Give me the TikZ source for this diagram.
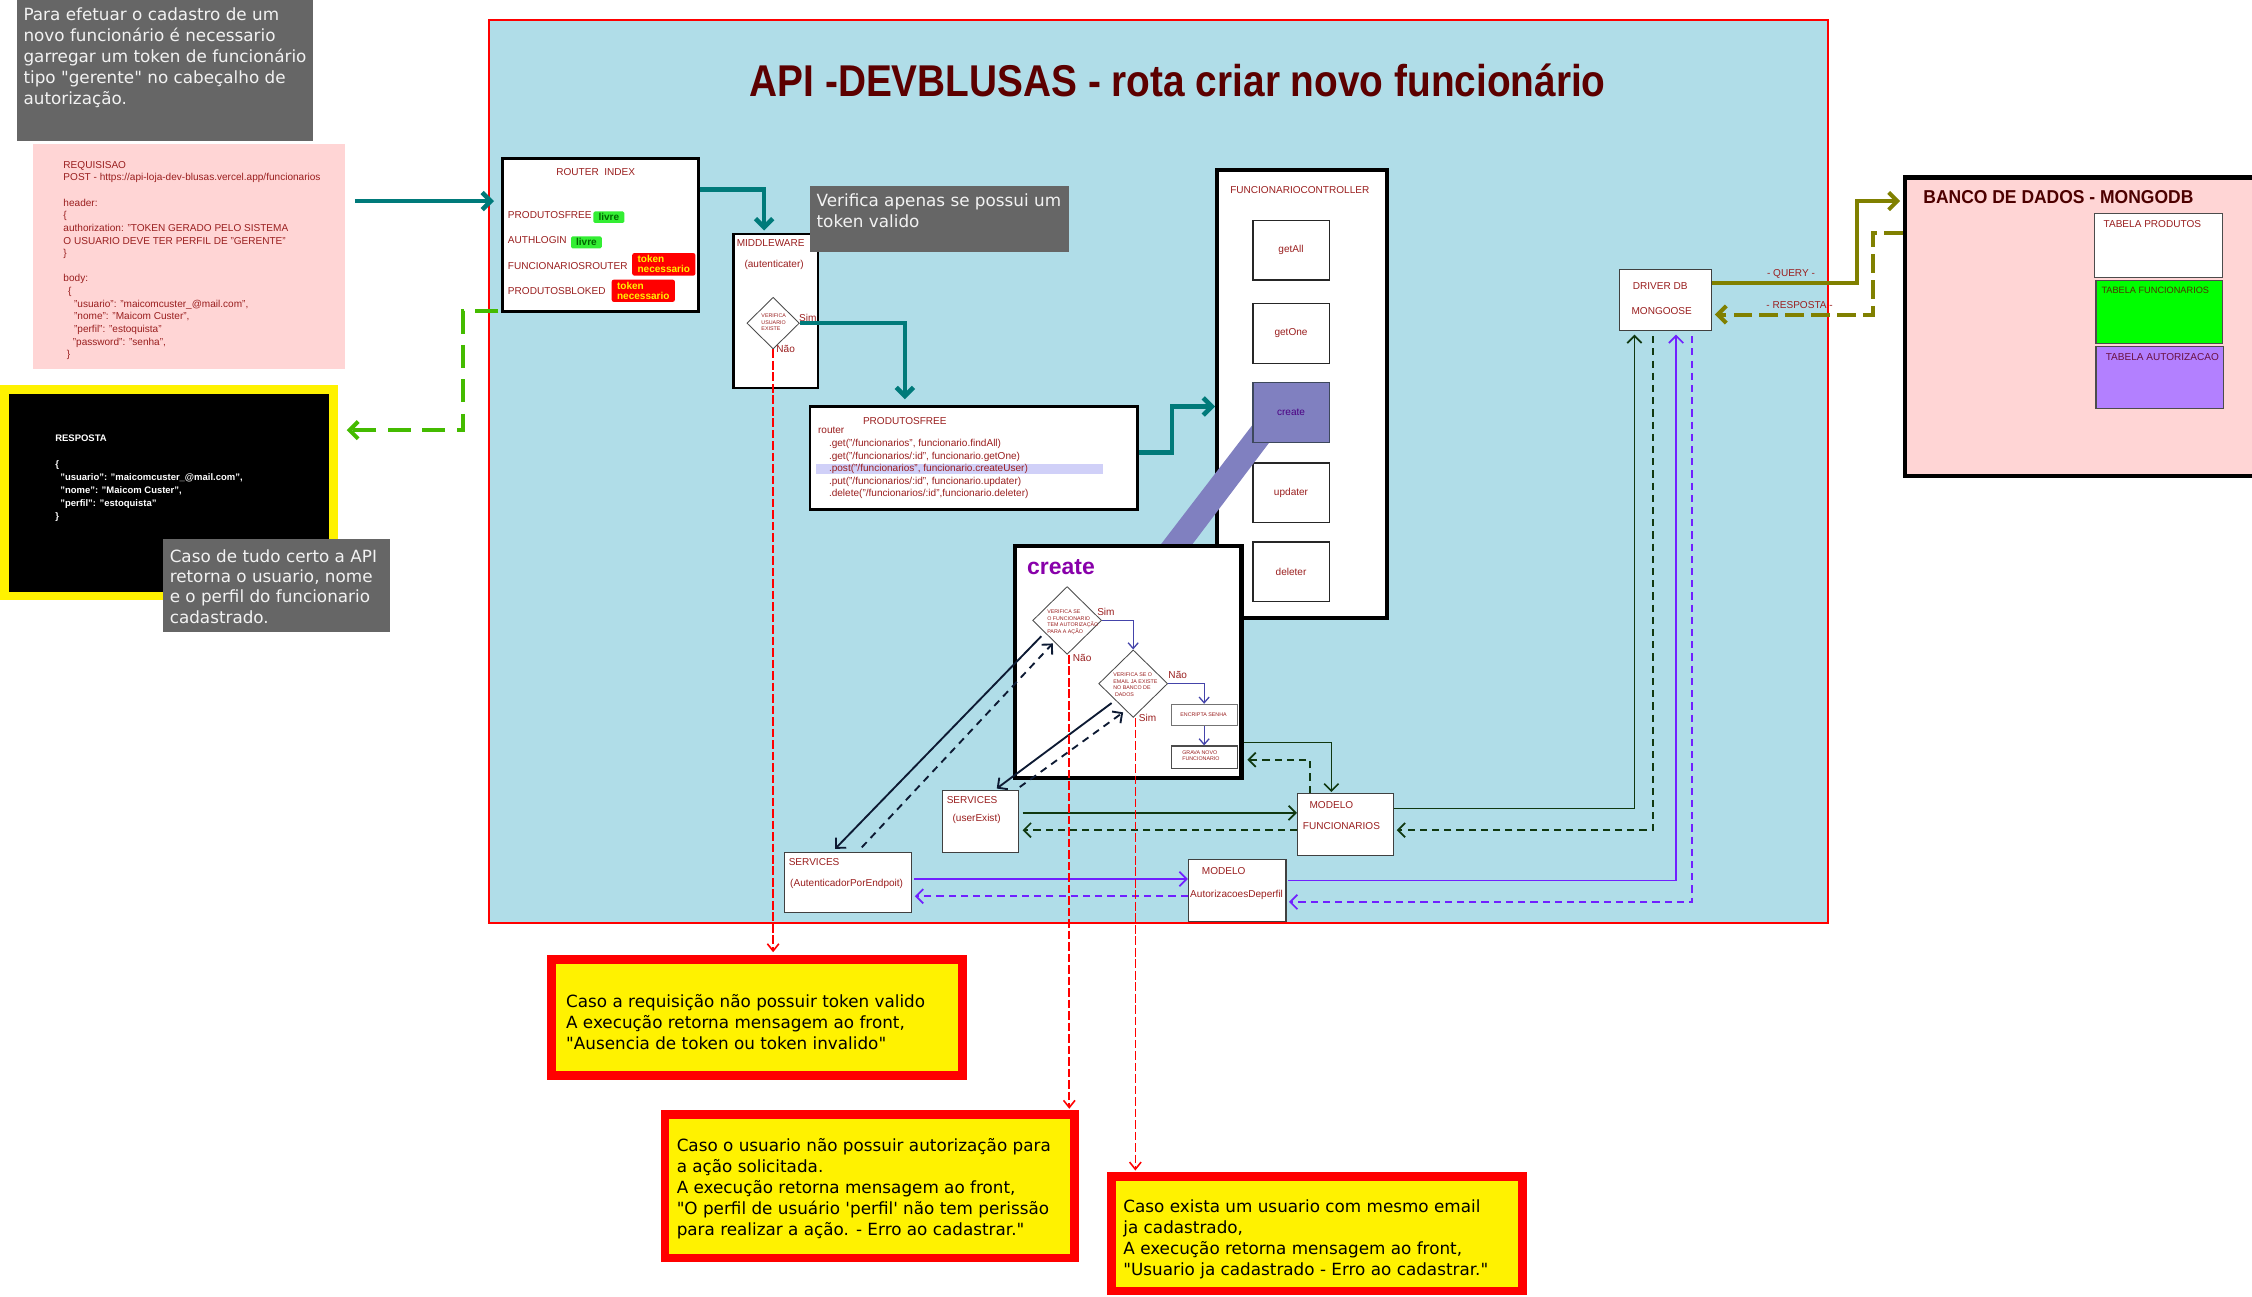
\documentclass[tikz,border=0pt]{standalone}
\usepackage{fontspec}
\usepackage{graphicx}
\setmainfont{Liberation Sans}
\newfontfamily\verd{DejaVu Sans}
\usetikzlibrary{arrows.meta,shapes.geometric}
\definecolor{bgblue}{HTML}{B0DDE8}
\definecolor{dr}{HTML}{9A1F1F}
\definecolor{titlered}{HTML}{5C0000}
\definecolor{gnote}{HTML}{666666}
\definecolor{notewhite}{HTML}{F2F2F2}
\definecolor{reqpink}{HTML}{FFD5D5}
\definecolor{tealc}{HTML}{007A7A}
\definecolor{limec}{HTML}{44BB00}
\definecolor{olivec}{HTML}{808000}
\definecolor{dgreen}{HTML}{103810}
\definecolor{violetc}{HTML}{7020FF}
\definecolor{navyc}{HTML}{0D1A33}
\definecolor{bluec}{HTML}{4444AA}
\definecolor{bandc}{HTML}{8080C0}
\definecolor{createc}{HTML}{8800AA}
\definecolor{ctxt}{HTML}{4B0082}
\definecolor{tgreen}{HTML}{00FF00}
\definecolor{tpurple}{HTML}{B380FF}
\definecolor{hlc}{HTML}{D0D0F8}
\definecolor{livref}{HTML}{33EE33}
\definecolor{livret}{HTML}{006600}
\definecolor{dbtitle}{HTML}{4D0000}
\definecolor{tfunc}{HTML}{4D3300}
\definecolor{taut}{HTML}{6A1040}
\tikzset{
 lab/.style={text=dr, font=\fontsize{7}{8.4}\selectfont, inner sep=0pt, text height=5pt, text depth=0pt},
 mlab/.style={text=dr, font=\fontsize{7}{8.8}\selectfont, inner sep=0pt, align=left, anchor=north west},
 tinylab/.style={text=dr, font=\fontsize{3.7}{4.45}\selectfont, inner sep=0pt, align=left, anchor=north west},
 wbox/.style={draw=black!75, fill=white, line width=0.8pt, anchor=north west, inner sep=0pt},
 kbox/.style={draw=black, fill=white, anchor=north west, inner sep=0pt},
 notebox/.style={fill=gnote, anchor=north west, inner sep=0pt},
 notetxt/.style={text=notewhite, font=\verd\fontsize{11.7}{14.5}\selectfont, align=left, anchor=north west, inner sep=0pt},
 ybox/.style={draw=red, fill=yellow, line width=6pt, anchor=north west, inner sep=0pt},
 ytxt/.style={text=black, font=\verd\fontsize{11.7}{14.6}\selectfont, align=left, anchor=north west, inner sep=0pt},
 dmd/.style={diamond, draw=black!70, fill=white, inner sep=0pt, line width=0.6pt},
 livretag/.style={fill=livref, text=livret, font=\bfseries\fontsize{7}{7}\selectfont, rounded corners=1pt, inner sep=0pt, anchor=north west, text height=5pt, text depth=0pt},
 tokentag/.style={fill=red, text=yellow, font=\bfseries\fontsize{7}{7}\selectfont, rounded corners=1.5pt, inner sep=1.5pt, anchor=north west, align=left},
 tealarrow/.style={draw=tealc, line width=3.2pt, -{Straight Barb[length=6pt,width=12pt]}},
 limedash/.style={draw=limec, line width=2.8pt, dash pattern=on 16pt off 8pt, -{Straight Barb[length=6pt,width=12pt]}},
 olivearrow/.style={draw=olivec, line width=2.8pt, -{Straight Barb[length=6pt,width=12pt]}},
 olivedash/.style={olivearrow, dash pattern=on 13pt off 5pt},
 gline/.style={draw=dgreen, line width=1.2pt, -{Straight Barb[length=5pt,width=10pt]}},
 gdash/.style={gline, dash pattern=on 5pt off 3.5pt},
 pline/.style={draw=violetc, line width=1.2pt, -{Straight Barb[length=5pt,width=10pt]}},
 pdash/.style={pline, dash pattern=on 5pt off 3.5pt},
 nline/.style={draw=navyc, line width=1.3pt, -{Straight Barb[length=5pt,width=10pt]}},
 ndash/.style={nline, dash pattern=on 5pt off 4pt},
 redd/.style={draw=red, line width=1.1pt, dash pattern=on 6pt off 2pt, -{Straight Barb[length=5pt,width=8pt]}},
 bluea/.style={draw=bluec, line width=0.9pt, -{Straight Barb[length=4pt,width=7pt]}},
}
\begin{document}
\begin{tikzpicture}[x=1pt,y=-1pt]
\useasboundingbox (0,0) rectangle (1568,903);
\fill[white] (0,0) rectangle (1568,903);

% ---------- left side ----------
\node[notebox, minimum width=206pt, minimum height=98pt] (n1) at (11.6,0) {};
\node[notetxt] (n1t) at (16.2,5.4) {Para efetuar o cadastro de um\\novo funcionário é necessario\\garregar um token de funcionário\\tipo "gerente" no cabeçalho de\\autorização.};

\node[notebox, fill=reqpink, minimum width=217pt, minimum height=157pt] (req) at (23,100) {};
\node[mlab] (reqt) at (44,112) {REQUISISAO\\POST - https://api-loja-dev-blusas.vercel.app/funcionarios\\\mbox{}\\header:\\\{\\authorization: "TOKEN GERADO PELO SISTEMA\\O USUARIO DEVE TER PERFIL DE "GERENTE"\\\}\\\mbox{}\\body:\\\hspace*{3.3pt}\{\\\hspace*{7.4pt}"usuario": "maicomcuster\_@mail.com",\\\hspace*{7.4pt}"nome": "Maicom Custer",\\\hspace*{7.4pt}"perfil": "estoquista"\\\hspace*{6.5pt}"password": "senha",\\\hspace*{2.3pt}\}};

\node[draw=yellow, fill=black, line width=6pt, minimum width=229pt, minimum height=144pt, anchor=north west, inner sep=0pt] (resp) at (0,268) {};
\node[text=white, font=\bfseries\fontsize{6.6}{9}\selectfont, align=left, anchor=north west, inner sep=0pt] (respt) at (38.3,302.8) {RESPOSTA\\\mbox{}\\\{\\\hspace*{3.5pt}"usuario": "maicomcuster\_@mail.com",\\\hspace*{3.5pt}"nome": "Maicom Custer",\\\hspace*{3.5pt}"perfil": "estoquista"\\\}};

\node[notebox, minimum width=158pt, minimum height=65pt] (n2) at (113,375) {};
\node[notetxt, font=\verd\fontsize{11.7}{14.1}\selectfont] (n2t) at (118,382.4) {Caso de tudo certo a API\\retorna o usuario, nome\\e o perfil do funcionario\\cadastrado.};

% ---------- main frame ----------
\node[draw=red, fill=bgblue, line width=1.4pt, minimum width=932pt, minimum height=629pt, anchor=north west, inner sep=0pt] (frame) at (340,13) {};
\node[anchor=base, inner sep=0pt, text=titlered, font=\bfseries\fontsize{31}{31}\selectfont] (title) at (820,67.3) {\resizebox{596pt}{\height}{API -DEVBLUSAS - rota criar novo funcionário}};

% router
\node[kbox, line width=2.2pt, minimum width=136pt, minimum height=107pt] (router) at (349,109) {};
\node[lab] (rt) at (414.8,120) {ROUTER\ \ INDEX};
\node[lab, anchor=west] (r1) at (353.5,149.5) {PRODUTOSFREE};
\node[livretag, minimum width=21.5pt, minimum height=8pt] (t1) at (413,147) {livre};
\node[lab, anchor=west] (r2) at (353.5,167) {AUTHLOGIN};
\node[livretag, minimum width=21.4pt, minimum height=8.3pt] (t2) at (397.4,164.4) {livre};
\node[lab, anchor=west] (r3) at (353.5,185) {FUNCIONARIOSROUTER};
\node[tokentag, minimum width=44pt, minimum height=15.7pt] (t3) at (440,176) {token\\necessario};
\node[lab, anchor=west] (r4) at (353.5,202.6) {PRODUTOSBLOKED};
\node[tokentag, minimum width=44pt, minimum height=15.5pt] (t4) at (425.7,194.5) {token\\necessario};

% middleware
\node[kbox, line width=1.5pt, minimum width=58.5pt, minimum height=107.5pt] (mw) at (510,162) {};
\node[lab] (mwt) at (536.6,169) {MIDDLEWARE};
\node[lab] (mwa) at (539,184) {(autenticater)};
\node[dmd, minimum width=36.6pt, minimum height=36pt] (mwd) at (538.3,225) {};
\node[tinylab] (mwdt) at (530,218.6) {VERIFICA\\USUARIO\\EXISTE};
\node[lab] (mws) at (562.4,221) {Sim};
\node[lab] (mwn) at (547,243) {Não};

\node[notebox, minimum width=180pt, minimum height=46pt] (n3) at (564,129) {};
\node[notetxt, font=\verd\fontsize{11.7}{15}\selectfont] (n3t) at (568.4,134.4) {Verifica apenas se possui um\\token valido};

% produtosfree
\node[kbox, line width=2pt, minimum width=228pt, minimum height=71.5pt] (pf) at (563,282) {};
\node[fill=hlc, anchor=north west, inner sep=0pt, minimum width=200pt, minimum height=7.3pt] (hl) at (568,322.7) {};
\node[lab] (pft) at (630,293) {PRODUTOSFREE};
\node[mlab, font=\fontsize{7}{8.75}\selectfont] (pfc) at (569.4,297.4) {router\\\hspace*{7.6pt}.get("/funcionarios", funcionario.findAll)\\\hspace*{7.6pt}.get("/funcionarios/:id", funcionario.getOne)\\\hspace*{7.6pt}.post("/funcionarios", funcionario.createUser)\\\hspace*{7.6pt}.put("/funcionarios/:id", funcionario.updater)\\\hspace*{7.6pt}.delete("/funcionarios/:id",funcionario.deleter)};

% controller
\node[kbox, line width=2.8pt, minimum width=118pt, minimum height=312pt] (ctrl) at (846,117) {};
\node[lab] (ctrlt) at (905,132.3) {FUNCIONARIOCONTROLLER};
\node[wbox, draw=black!85, minimum width=53pt, minimum height=41.5pt, text=dr, font=\fontsize{7}{8}\selectfont] (getall) at (872,153) {getAll};
\node[wbox, draw=black!85, minimum width=53pt, minimum height=41.5pt, text=dr, font=\fontsize{7}{8}\selectfont] (getone) at (872,211) {getOne};
\node[wbox, draw=black!85, minimum width=53pt, minimum height=41.5pt, text=dr, font=\fontsize{7}{8}\selectfont] (updater) at (872,322) {updater};
\node[wbox, draw=black!85, minimum width=53pt, minimum height=41.5pt, text=dr, font=\fontsize{7}{8}\selectfont] (deleter) at (872,377) {deleter};
\fill[bandc] (880,285.5) -- (891,298.5) -- (823,388.5) -- (801,388.5) -- cycle;
\node[wbox, fill=bandc, draw=navyc!80, minimum width=53pt, minimum height=41.5pt, text=ctxt, font=\fontsize{7}{8}\selectfont] (createc) at (872,266) {create};

% create box
\node[kbox, line width=2.8pt, minimum width=158pt, minimum height=161.5pt] (crbig) at (705,379) {};
\node[anchor=west, inner sep=0pt, text=createc, font=\bfseries\fontsize{16}{16}\selectfont] (crt) at (715,394.6) {create};
\node[dmd, minimum width=48pt, minimum height=47.2pt] (d1) at (743,432) {};
\node[tinylab] (d1t) at (729,424.7) {VERIFICA SE\\O FUNCIONARIO\\TEM AUTORIZAÇÃO\\PARA A AÇÃO};
\node[lab] (d1s) at (770,426) {Sim};
\node[lab] (d1n) at (753.5,458) {Não};
\node[dmd, minimum width=48pt, minimum height=47pt] (d2) at (789,476) {};
\node[tinylab] (d2t) at (775,468.5) {VERIFICA SE O\\EMAIL JA EXISTE\\NO BANCO DE\\\hspace*{1.2pt}DADOS};
\node[lab] (d2n) at (820,470) {Não};
\node[lab] (d2s) at (799,500) {Sim};
\node[wbox, draw=black!55, minimum width=46pt, minimum height=15pt] (enc) at (815,490) {};
\node[tinylab, anchor=center] (enct) at (838,497.5) {ENCRIPTA SENHA};
\node[wbox, draw=black!70, minimum width=46pt, minimum height=15.5pt] (grava) at (815,519) {};
\node[tinylab] (gravat) at (823,522.4) {GRAVA NOVO\\FUNCIONARIO};

% services and models
\node[wbox, minimum width=53pt, minimum height=43pt] (ue) at (656,550) {};
\node[lab, anchor=west] (uet1) at (659,557) {SERVICES};
\node[lab] (uet2) at (680,569.7) {(userExist)};
\node[wbox, minimum width=88pt, minimum height=42pt] (auth) at (546,593) {};
\node[lab, anchor=west] (autht1) at (549,600) {SERVICES};
\node[lab] (autht2) at (589.5,615) {(AutenticadorPorEndpoit)};
\node[wbox, minimum width=67pt, minimum height=43pt] (mf) at (903,552) {};
\node[lab] (mft1) at (927,560.6) {MODELO};
\node[lab] (mft2) at (934,575) {FUNCIONARIOS};
\node[wbox, minimum width=68pt, minimum height=43pt] (ma) at (827,598) {};
\node[lab] (mat1) at (852,606.6) {MODELO};
\node[lab] (mat2) at (861,622.6) {AutorizacoesDeperfil};
\node[wbox, minimum width=64pt, minimum height=43pt] (drv) at (1127,187) {};
\node[lab] (drvt1) at (1156,199) {DRIVER DB};
\node[lab] (drvt2) at (1157,216.6) {MONGOOSE};
\node[lab] (q) at (1247,190) {- QUERY -};
\node[lab] (rs) at (1253,212) {- RESPOSTA -};

% database
\node[kbox, fill=reqpink, line width=3pt, minimum width=250pt, minimum height=208pt] (db) at (1325,122) {};
\node[anchor=base west, inner sep=0pt, text=dbtitle, font=\bfseries\fontsize{13}{13}\selectfont] (dbt) at (1339,141.6) {\resizebox{188pt}{\height}{BANCO DE DADOS - MONGODB}};
\node[wbox, draw=black!70, minimum width=89pt, minimum height=45pt] (tp) at (1458,148) {};
\node[lab, anchor=west] (tpt) at (1464.5,156) {TABELA PRODUTOS};
\node[wbox, fill=tgreen, draw=black!70, minimum width=88pt, minimum height=44pt] (tf) at (1459,195) {};
\node[lab, anchor=west, text=tfunc, font=\fontsize{6.4}{8}\selectfont] (tft) at (1463,202) {TABELA FUNCIONARIOS};
\node[wbox, fill=tpurple, draw=black!70, minimum width=89pt, minimum height=43pt] (ta) at (1459,241) {};
\node[lab, anchor=west, text=taut] (tat) at (1466,248.4) {TABELA AUTORIZACAO};

% yellow boxes
\node[ybox, minimum width=286pt, minimum height=81pt] (y1) at (381,665) {};
\node[ytxt] (y1t) at (394,692.4) {Caso a requisição não possuir token valido\\A execução retorna mensagem ao front,\\"Ausencia de token ou token invalido"};
\node[ybox, minimum width=285pt, minimum height=100pt] (y2) at (460,773) {};
\node[ytxt] (y2t) at (471,792.4) {Caso o usuario não possuir autorização para\\a ação solicitada.\\A execução retorna mensagem ao front,\\"O perfil de usuário \textquotesingle perfil\textquotesingle{} não tem perissão\\para realizar a ação. - Erro ao cadastrar."};
\node[ybox, minimum width=286pt, minimum height=80pt] (y3) at (771,816) {};
\node[ytxt] (y3t) at (782,835.4) {Caso exista um usuario com mesmo email\\ja cadastrado,\\A execução retorna mensagem ao front,\\"Usuario ja cadastrado - Erro ao cadastrar."};

% ---------- connectors ----------
\draw[tealarrow, shorten >=5pt] (247,140) -- (router.west |- 0,140);
\draw[tealarrow] (router.east |- 0,132) -| (532,160.5);
\draw[tealarrow] (mwd.east) -| (630,278);
\draw[tealarrow] (pf.east |- 0,315) -| (816,283) -- (ctrl.west |- 0,283);
\draw[limedash] (347,216.6) -| (322.6,299.5) -- (241.4,299.5);
\draw[olivearrow] (drv.east |- 0,197) -| (1293,140) -- (1323,140);
\draw[olivedash] (1325,162) -| (1304,219) -- (1194,219);

\draw[gline] (mf.east |- 0,563) -| (1138,233);
\draw[gdash] (1151,234) |- (972.5,578);
\draw[pline] (897,613) -| (1167,233);
\draw[pdash] (1178,234) |- (897.5,628);
\draw[gline] (712,566) -- (mf.west |- 0,566);
\draw[gdash] (mf.west |- 0,578) -- (712,578);
\draw[pline] (636.5,612) -- (ma.west |- 0,612);
\draw[pdash] (ma.west |- 0,624) -- (637,624);
\draw[gline] (crbig.east |- 0,517) -| (927,551.5);
\draw[gdash] (912,552) |- (868.5,529);

\draw[nline] (725,443) -- (581.5,591);
\draw[ndash] (600,590) -- (733,448);
\draw[nline] (774,489.5) -- (694,549);
\draw[ndash] (710,548) -- (782,496);

\draw[bluea] (d1.east) -| (d2.north);
\draw[bluea] (d2.east) -| (enc.north);
\draw[bluea] (enc.south) -- (grava.north);

\draw[redd] (mwd.south) -- (538.3,663);
\draw[redd] (744.5,456) -- (744.5,772);
\draw[redd] (790.5,500) -- (790.5,815);
\end{tikzpicture}
\end{document}
